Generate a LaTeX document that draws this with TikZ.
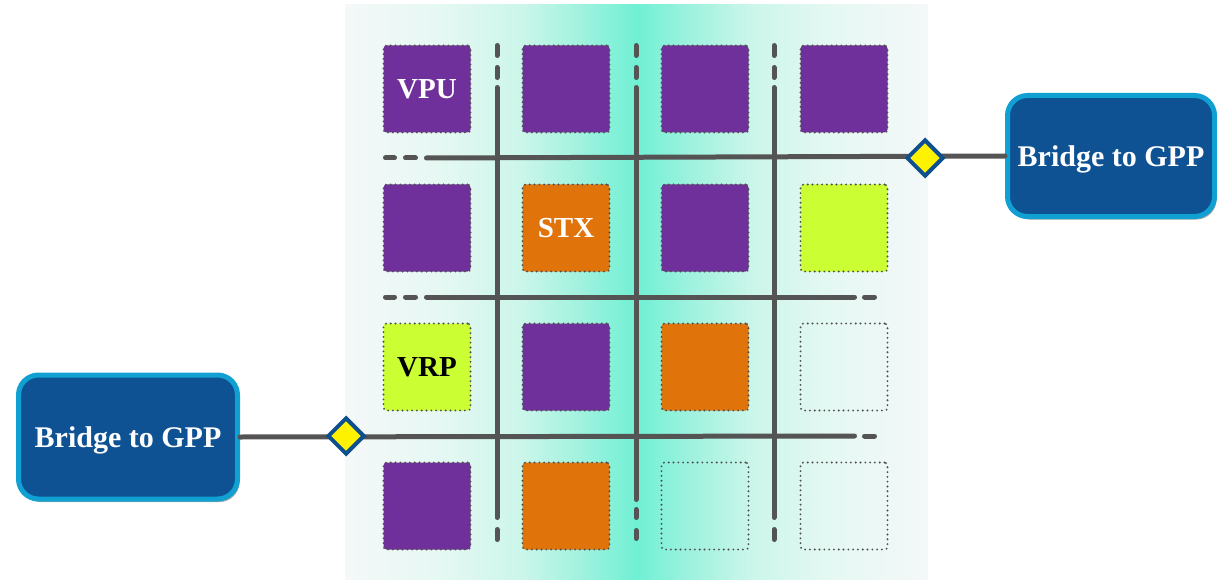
\documentclass[tikz,border=0pt]{standalone}
\usepackage{fontspec}
\setmainfont{Liberation Serif}
\usetikzlibrary{positioning,shapes.geometric,shadows}

\definecolor{vpuPurple}{HTML}{6F309B}
\definecolor{stxOrange}{HTML}{E0740A}
\definecolor{vrpLime}{HTML}{CCFF33}
\definecolor{busGray}{HTML}{545454}
\definecolor{dotGray}{HTML}{505050}
\definecolor{bridgeFill}{HTML}{0E5294}
\definecolor{bridgeRim}{HTML}{10A0D2}
\definecolor{portRim}{HTML}{0E4F90}
\definecolor{panelEdge}{HTML}{F4F8F8}
\definecolor{panelA}{HTML}{E6F8F3}
\definecolor{panelB}{HTML}{CCF6EA}
\definecolor{panelC}{HTML}{A2F2DF}
\definecolor{panelMid}{HTML}{70F0D4}

\pgfdeclarehorizontalshading{panelshade}{100bp}{color(0bp)=(panelEdge); color(25bp)=(panelEdge); color(33bp)=(panelA); color(40bp)=(panelB); color(45bp)=(panelC); color(50bp)=(panelMid); color(55bp)=(panelC); color(60bp)=(panelB); color(67bp)=(panelA); color(75bp)=(panelEdge); color(100bp)=(panelEdge)}

\tikzset{
    cell/.style={rectangle, minimum size=87pt, inner sep=0pt, outer sep=0pt, rounded corners=3pt, draw=dotGray, line width=2.1pt, dash pattern=on 0pt off 4.8pt, line cap=round, font=\fontsize{29}{31}\selectfont\bfseries},
    vpu/.style={cell, fill=vpuPurple, text=white},
    stx/.style={cell, fill=stxOrange, text=white},
    vrp/.style={cell, fill=vrpLime, text=black},
    idle/.style={cell},
    bus/.style={draw=busGray, line width=5pt, line cap=round},
    port/.style={diamond, aspect=1, minimum size=37pt, inner sep=0pt, fill=yellow, draw=portRim, line width=4pt},
    bridge/.style={rectangle, rounded corners=20pt, fill=bridgeFill, draw=bridgeRim, line width=5pt, text=white, text depth=0pt, font=\fontsize{30}{32}\selectfont\bfseries, drop shadow={shadow xshift=2pt, shadow yshift=-3pt, opacity=0.35, fill=black}}
}

\begin{document}
\begin{tikzpicture}[x=1pt, y=-1pt]
        \useasboundingbox (0,0) rectangle (1217,580);

        % Panel
        \fill[shading=panelshade] (345,5) rectangle (928,580);

        % Bridges
        \node (bridge_r) [bridge, minimum width=207pt, minimum height=121pt] at (1111,156) {Bridge to GPP};
        \node (bridge_l) [bridge, minimum width=219pt, minimum height=124pt] at (128,437) {Bridge to GPP};

        % Bus lines
        \coordinate (bus_top) at (426.5,158);
        \coordinate (bus_mid) at (426.5,297);
        \coordinate (bus_mid_end) at (854.5,297);
        \coordinate (bus_low_end) at (854.5,436);
        \foreach \y in {158,297} {
            \draw[bus] (385.5,\y) -- (394.5,\y);
            \draw[bus] (405.5,\y) -- (415.5,\y);
        }
        \foreach \y in {297,436}
            \draw[bus] (864.5,\y) -- (874.5,\y);
        \draw[bus] (bus_top) -- (bridge_r.west);
        \draw[bus] (bus_mid) -- (bus_mid_end);
        \draw[bus] (bridge_l.east) -- (bus_low_end);

        \foreach \x in {497,636,774} {
            \draw[bus] (\x,45.5) -- (\x,55.5);
            \draw[bus] (\x,67.5) -- (\x,77.5);
        }
        \draw[bus] (497,87.5) -- (497,517.5);
        \draw[bus] (497,529.5) -- (497,539.5);
        \draw[bus] (636,87.5) -- (636,499.5);
        \draw[bus] (636,509.5) -- (636,517.5);
        \draw[bus] (636,530.5) -- (636,538.5);
        \draw[bus] (774,87.5) -- (774,517.5);
        \draw[bus] (774,529.5) -- (774,539.5);

        % Ports
        \node (port_r) [port] at (925,158) {};
        \node (port_l) [port] at (346,436) {};

        % Row 1
        \node (c11) [vpu] at (427,89) {VPU};
        \node (c12) [vpu, right=52pt of c11] {};
        \node (c13) [vpu, right=52pt of c12] {};
        \node (c14) [vpu, right=52pt of c13] {};

        % Row 2
        \node (c21) [vpu, below=52pt of c11] {};
        \node (c22) [stx, right=52pt of c21] {STX};
        \node (c23) [vpu, right=52pt of c22] {};
        \node (c24) [vrp, right=52pt of c23] {};

        % Row 3
        \node (c31) [vrp, below=52pt of c21] {VRP};
        \node (c32) [vpu, right=52pt of c31] {};
        \node (c33) [stx, right=52pt of c32] {};
        \node (c34) [idle, right=52pt of c33] {};

        % Row 4
        \node (c41) [vpu, below=52pt of c31] {};
        \node (c42) [stx, right=52pt of c41] {};
        \node (c43) [idle, right=52pt of c42] {};
        \node (c44) [idle, right=52pt of c43] {};

    \end{tikzpicture}
\end{document}
